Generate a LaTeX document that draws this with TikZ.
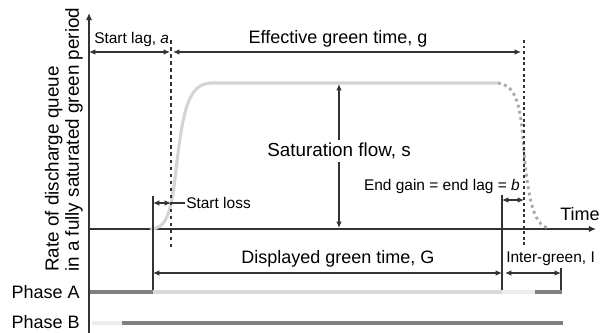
\documentclass[tikz,border=0pt]{standalone}
\usepackage{fontspec}
\setmainfont{Liberation Sans}
\usetikzlibrary{arrows.meta}
\definecolor{axisgray}{HTML}{333333}
\definecolor{bardark}{HTML}{7F7F7F}
\definecolor{barlight}{HTML}{DADADA}
\definecolor{barpale}{HTML}{EDEDED}
\definecolor{curvegray}{HTML}{D4D4D4}
\definecolor{dotgray}{HTML}{A8A8A8}
\tikzset{
  lbl/.style={font=\fontsize{12.8}{14.2}\selectfont, text=black, inner sep=0pt},
  lblsmall/.style={lbl, font=\fontsize{11}{13}\selectfont},
  dimline/.style={axisgray, line width=0.9pt, {Latex[length=4.5pt,width=4pt]}-{Latex[length=4.5pt,width=4pt]}},
  guide/.style={axisgray, line width=0.8pt},
  phasebar/.style={line width=2.6pt},
}

\begin{document}
\begin{tikzpicture}[x=0.025cm,y=-0.025cm]
\useasboundingbox (0,0) rectangle (607,333);

% axes
\coordinate (O) at (89,229);
\coordinate (ytop) at (89,13);
\coordinate (ybot) at (89,333);
\coordinate (xend) at (596,229);
\draw[axisgray,line width=1.3pt,-{Latex[length=5pt,width=4.5pt]}] (ybot) -- (ytop);
\draw[axisgray,line width=0.9pt,-{Latex[length=5pt,width=4.5pt]}] (O) -- (xend);
\node[lbl,anchor=south east] (time) at (600,221) {Time};
\node[lbl,font=\fontsize{13.4}{14.4}\selectfont,rotate=90,align=left,anchor=south west] (ylabel) at (83,272)
  {Rate of discharge queue\\in a fully saturated green period};

% saturation flow curve
\draw[curvegray,line width=2.2pt] (150,229) .. controls (166,229) and (171,215) .. (176,170)
  .. controls (183,110) and (188,83) .. (212,83) -- (498,83);
\draw[dotgray,line width=2pt,dash pattern=on 2pt off 2.5pt] (498,83) .. controls (514,85) and (520,100) .. (523,140)
  .. controls (527,190) and (532,228) .. (550,228);

% start of effective green, end of effective green
\coordinate (dashT) at (171,40);
\coordinate (dashB) at (171,248);
\coordinate (dotT) at (524,40);
\coordinate (dotB) at (524,248);
\draw[axisgray,line width=1pt,dash pattern=on 2.5pt off 2.5pt] (dashT) -- (dashB);
\draw[axisgray,line width=1.3pt,dash pattern=on 2pt off 2pt] (dotT) -- (dotB);

% top dimensions
\coordinate (lagL) at (89,52);
\coordinate (lagR) at (170,52);
\coordinate (effL) at (173,52);
\coordinate (effR) at (521,52);
\draw[dimline] (lagL) -- (lagR);
\draw[dimline] (effL) -- (effR);
\node[lblsmall,anchor=west] (startlag) at (94,40) {Start lag, \textit{a}};
\node[lbl] (effgreen) at (338,39) {Effective green time, g};

% saturation flow
\coordinate (satT) at (339,84);
\coordinate (satB) at (339,228);
\draw[dimline] (satT) -- (satB);
\node[lbl,font=\fontsize{13.4}{15}\selectfont,fill=white,inner sep=2pt] (satflow) at (339,151) {Saturation flow, s};

% start loss
\coordinate (slT) at (153,196);
\coordinate (slB) at (153,292);
\coordinate (slL) at (153,203);
\coordinate (slR) at (171,203);
\coordinate (slE) at (185,203);
\draw[guide] (slT) -- (slB);
\draw[dimline] (slL) -- (slR);
\draw[guide] (slR) -- (slE);
\node[lblsmall,anchor=west] (startloss) at (186,203) {Start loss};

% end gain
\coordinate (egT) at (502,195);
\coordinate (egB) at (502,292);
\coordinate (egL) at (502,200);
\coordinate (egR) at (524,200);
\draw[guide] (egT) -- (egB);
\draw[dimline] (egL) -- (egR);
\node[lblsmall,anchor=east] (endgain) at (520,187) {End gain = end lag = \textit{b}};

% displayed green and inter-green
\coordinate (dgL) at (153,273);
\coordinate (dgR) at (502,273);
\coordinate (igL) at (505,273);
\coordinate (igR) at (561,273);
\coordinate (igT) at (561,268);
\coordinate (igB) at (561,294);
\draw[dimline] (dgL) -- (dgR);
\draw[dimline] (igL) -- (igR);
\draw[guide] (igT) -- (igB);
\node[lbl] (dispgreen) at (338,259) {Displayed green time, G};
\node[lblsmall,anchor=west] (intergreen) at (506,259) {Inter-green, I};

% phase bars
\coordinate (pa0) at (90,292);
\coordinate (pa1) at (153,292);
\coordinate (pa2) at (502,292);
\coordinate (pa3) at (535,292);
\coordinate (pa4) at (562,292);
\draw[phasebar,bardark] (pa0) -- (pa1);
\draw[phasebar,barlight] (pa1) -- (pa2);
\draw[phasebar,barpale] (pa2) -- (pa3);
\draw[phasebar,bardark] (pa3) -- (pa4);
\coordinate (pb0) at (92,323);
\coordinate (pb1) at (122,323);
\coordinate (pb2) at (563,323);
\draw[phasebar,barpale] (pb0) -- (pb1);
\draw[phasebar,bardark] (pb1) -- (pb2);
\node[lbl,anchor=east] (phaseA) at (80,292) {Phase A};
\node[lbl,anchor=east] (phaseB) at (80,322) {Phase B};

\end{tikzpicture}
\end{document}
